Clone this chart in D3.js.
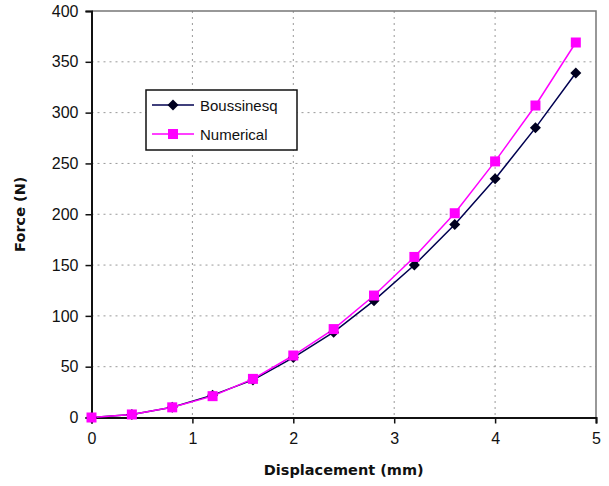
<!DOCTYPE html>
<html>
<head>
<meta charset="utf-8">
<script src="https://cdn.jsdelivr.net/npm/d3@7"></script>
<style>
  body { margin: 0; background: #fff; }
  .title { font-family: "DejaVu Sans", Verdana, sans-serif; font-weight: bold; font-size: 14.5px; fill: #111; }
</style>
</head>
<body>
<div id="chart"></div>
<script>
// displacement (mm)
var displacement = [0, 0.4, 0.8, 1.2, 1.6, 2.0, 2.4, 2.8, 3.2, 3.6, 4.0, 4.4, 4.8];
// force (N)
var boussinesq = [0, 3, 10, 22, 37, 59, 84, 115, 150, 190, 235, 285, 339];
var numerical = [0, 3, 10, 21, 38, 61, 87, 120, 158, 201, 252, 307, 369];
var xTicks = [0, 1, 2, 3, 4, 5];
var yTicks = [0, 50, 100, 150, 200, 250, 300, 350, 400];

var width = 609, height = 486;
var plotLeft = 91.5, plotRight = 596, plotTop = 11, plotBottom = 417.5;

var svg = d3.select('#chart').append('svg')
    .attr('width', width)
    .attr('height', height);

var x = d3.scaleLinear().domain([0, 5]).range([plotLeft, plotRight]);
var y = d3.scaleLinear().domain([0, 400]).range([plotBottom, plotTop]);

// grid
svg.append('g').selectAll('line')
    .data(yTicks.slice(1, -1))
    .enter().append('line')
    .attr('x1', plotLeft).attr('x2', plotRight)
    .attr('y1', function (d) { return y(d); })
    .attr('y2', function (d) { return y(d); })
    .attr('stroke', '#999').attr('stroke-dasharray', '2,4');

svg.append('g').selectAll('line')
    .data(xTicks.slice(1, -1))
    .enter().append('line')
    .attr('y1', plotTop).attr('y2', plotBottom)
    .attr('x1', function (d) { return x(d); })
    .attr('x2', function (d) { return x(d); })
    .attr('stroke', '#999').attr('stroke-dasharray', '2,4');

// frame top/right
svg.append('path')
    .attr('d', 'M' + plotLeft + ',' + plotTop + 'H' + plotRight + 'V' + plotBottom)
    .attr('fill', 'none').attr('stroke', '#777').attr('stroke-width', 1.5);

// axes
var xAxis = svg.append('g')
    .attr('transform', 'translate(0,' + plotBottom + ')')
    .call(d3.axisBottom(x).tickValues(xTicks).tickSize(6).tickPadding(9).tickFormat(d3.format('d')));
var yAxis = svg.append('g')
    .attr('transform', 'translate(' + plotLeft + ',0)')
    .call(d3.axisLeft(y).tickValues(yTicks).tickSize(6).tickPadding(7).tickFormat(d3.format('d')));
[xAxis, yAxis].forEach(function (a) {
    a.select('.domain').attr('stroke', '#111').attr('stroke-width', 2);
    a.selectAll('.tick line').attr('stroke', '#111').attr('stroke-width', 1.5);
    a.selectAll('.tick text')
        .attr('font-family', '"Liberation Sans", Arial, sans-serif')
        .attr('font-size', 16).attr('fill', '#111');
});

var line = d3.line()
    .x(function (d) { return x(d[0]); })
    .y(function (d) { return y(d[1]); });

var bData = displacement.map(function (d, i) { return [d, boussinesq[i]]; });
var nData = displacement.map(function (d, i) { return [d, numerical[i]]; });

var navy = '#000050', magenta = '#ff00ff';

svg.append('path').datum(bData)
    .attr('d', line).attr('fill', 'none').attr('stroke', navy).attr('stroke-width', 1.5);
svg.append('path').datum(nData)
    .attr('d', line).attr('fill', 'none').attr('stroke', magenta).attr('stroke-width', 1.5);

// diamond marker as a rotated square
var diamond = 'M0,-5.5L5.5,0L0,5.5L-5.5,0Z';
svg.append('g').selectAll('path')
    .data(bData).enter().append('path')
    .attr('d', diamond)
    .attr('transform', function (d) { return 'translate(' + x(d[0]) + ',' + y(d[1]) + ')'; })
    .attr('fill', '#000020');

svg.append('g').selectAll('rect')
    .data(nData).enter().append('rect')
    .attr('x', function (d) { return x(d[0]) - 5; })
    .attr('y', function (d) { return y(d[1]) - 5; })
    .attr('width', 10).attr('height', 10)
    .attr('fill', magenta);

// legend
var lg = svg.append('g');
lg.append('rect')
    .attr('x', 146).attr('y', 90).attr('width', 151).attr('height', 60)
    .attr('fill', '#fff').attr('stroke', '#111').attr('stroke-width', 1.5);
lg.append('line').attr('x1', 152).attr('x2', 194).attr('y1', 105).attr('y2', 105)
    .attr('stroke', navy).attr('stroke-width', 1.5);
lg.append('path').attr('d', diamond).attr('transform', 'translate(173,105)').attr('fill', '#000020');
lg.append('line').attr('x1', 152).attr('x2', 194).attr('y1', 134).attr('y2', 134)
    .attr('stroke', magenta).attr('stroke-width', 1.5);
lg.append('rect').attr('x', 168).attr('y', 129).attr('width', 10).attr('height', 10).attr('fill', magenta);
lg.append('text').attr('x', 200).attr('y', 110.5)
    .attr('font-family', '"Liberation Sans", Arial, sans-serif').attr('font-size', 15).attr('fill', '#111')
    .text('Boussinesq');
lg.append('text').attr('x', 200).attr('y', 139.5)
    .attr('font-family', '"Liberation Sans", Arial, sans-serif').attr('font-size', 15).attr('fill', '#111')
    .text('Numerical');

// axis titles
svg.append('text').attr('class', 'title')
    .attr('x', (plotLeft + plotRight) / 2).attr('y', 475)
    .attr('text-anchor', 'middle')
    .text('Displacement (mm)');
svg.append('text').attr('class', 'title')
    .attr('transform', 'translate(25,' + ((plotTop + plotBottom) / 2) + ') rotate(-90)')
    .attr('text-anchor', 'middle')
    .text('Force (N)');
</script>
</body>
</html>
